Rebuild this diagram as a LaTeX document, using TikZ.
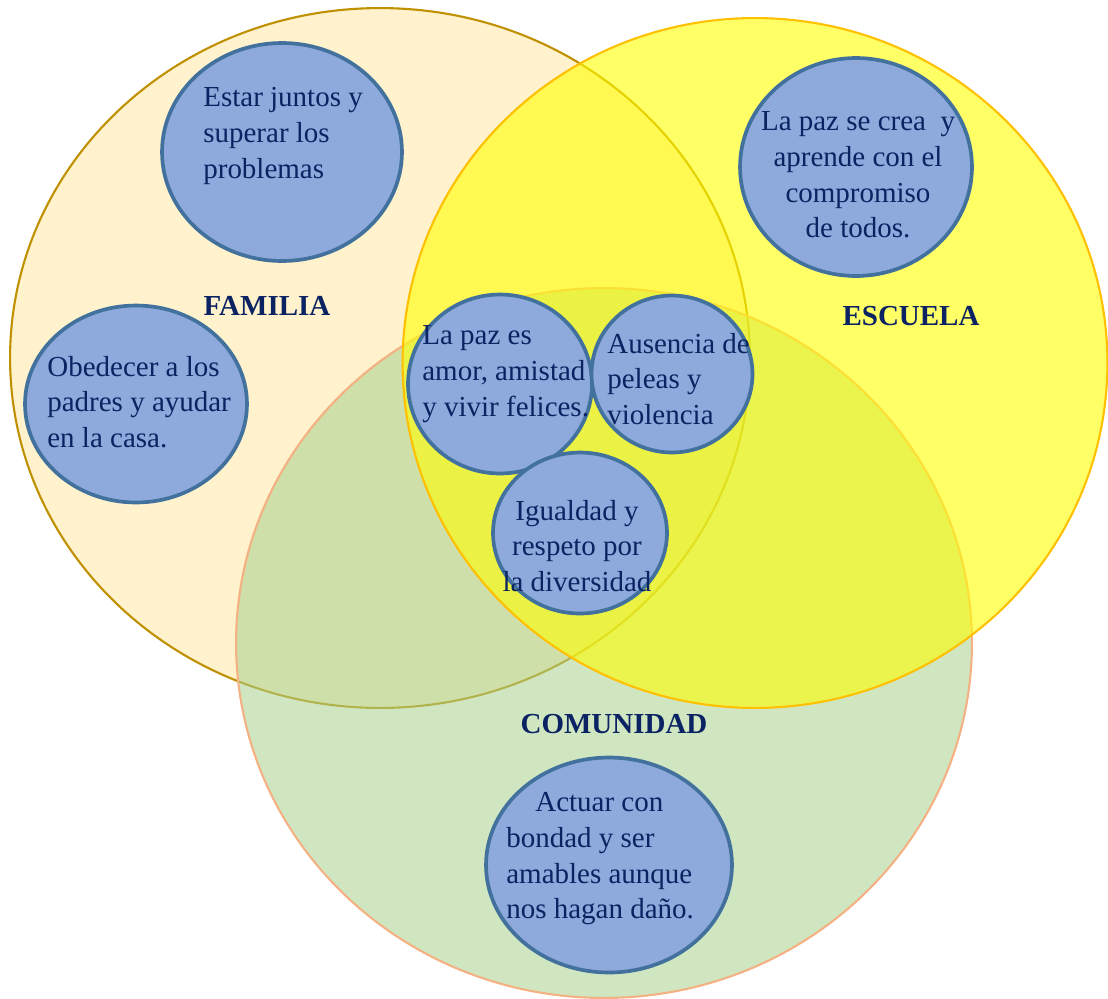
\documentclass[tikz,border=0pt]{standalone}
\usepackage{fontspec}
\setmainfont{Liberation Serif}
\usetikzlibrary{shapes.geometric}

\definecolor{famfill}{HTML}{FFF2CC}
\definecolor{famline}{HTML}{BF9000}
\definecolor{escfill}{HTML}{FFFF00}
\definecolor{escline}{HTML}{FFC000}
\definecolor{comfill}{HTML}{A9D18E}
\definecolor{comline}{HTML}{F4B183}
\definecolor{ideafill}{HTML}{8EA9DB}
\definecolor{idealine}{HTML}{41719C}
\definecolor{navy}{HTML}{0B2362}

\begin{document}
\begin{tikzpicture}[x=0.02cm, y=-0.02cm,
	setbox/.style={ellipse, inner sep=0pt, line width=1.2pt},
	idea/.style={ellipse, inner sep=0pt, draw=idealine, fill=ideafill, line width=2.1pt},
	txt/.style={inner sep=0pt, text=navy, font=\fontsize{16.5}{20.3}\selectfont},
	settitle/.style={txt, font=\fontsize{16.5}{20.3}\selectfont\bfseries}]
		\useasboundingbox (0,0) rectangle (1108,998);
		
		%sets
		\node[setbox, draw=famline, fill=famfill, minimum width=14.8cm, minimum height=14cm] (familia) at (380,358) {};
		\node[setbox, draw=comline, fill=comfill, fill opacity=0.55, minimum width=14.72cm, minimum height=14.2cm] (comunidad) at (604,643) {};
		\node[setbox, draw=escline, fill=escfill, fill opacity=0.6, minimum width=14.1cm, minimum height=13.8cm] (escuela) at (755,363) {};
		
		%set names
		\node[settitle] (familia-t) at (267,306) {FAMILIA};
		\node[settitle] (escuela-t) at (911,316) {ESCUELA};
		\node[settitle] (comunidad-t) at (614,724) {COMUNIDAD};
		
		%ideas
		\node[idea, minimum width=4.8cm, minimum height=4.36cm] (juntos) at (282,152) {};
		\node[idea, minimum width=4.64cm, minimum height=4.36cm] (crea) at (856,167) {};
		\node[idea, minimum width=4.44cm, minimum height=3.94cm] (obedecer) at (136,404) {};
		\node[idea, minimum width=3.68cm, minimum height=3.58cm] (amor) at (500,384) {};
		\node[idea, minimum width=3.22cm, minimum height=3.14cm] (ausencia) at (672,374) {};
		\node[idea, minimum width=3.48cm, minimum height=3.22cm] (igualdad) at (580,533) {};
		\node[idea, minimum width=4.92cm, minimum height=4.3cm] (actuar) at (609,865) {};
		
		%texts
		\node[txt, align=left, anchor=west] (juntos-t) at (203,136) {Estar juntos y\\superar los\\problemas};
		\node[txt, align=center] (crea-t) at (858,175) {La paz se crea\ \ y\\aprende con el\\compromiso\\de todos.};
		\node[txt, align=left, anchor=west] (obedecer-t) at (47,402) {Obedecer a los\\padres y ayudar\\en la casa.};
		\node[txt, align=left, anchor=west] (amor-t) at (422,374) {La paz es\\amor, amistad\\y vivir felices.};
		\node[txt, align=left, anchor=west] (ausencia-t) at (607,379) {Ausencia de\\peleas y\\violencia};
		\node[txt, align=center] (igualdad-t) at (577,546) {Igualdad y\\respeto por\\la diversidad};
		\node[txt, align=left, anchor=west] (actuar-t) at (506,859) {\hspace*{1em}Actuar con\\bondad y ser\\amables aunque\\nos hagan daño.};
		
\end{tikzpicture}
\end{document}
